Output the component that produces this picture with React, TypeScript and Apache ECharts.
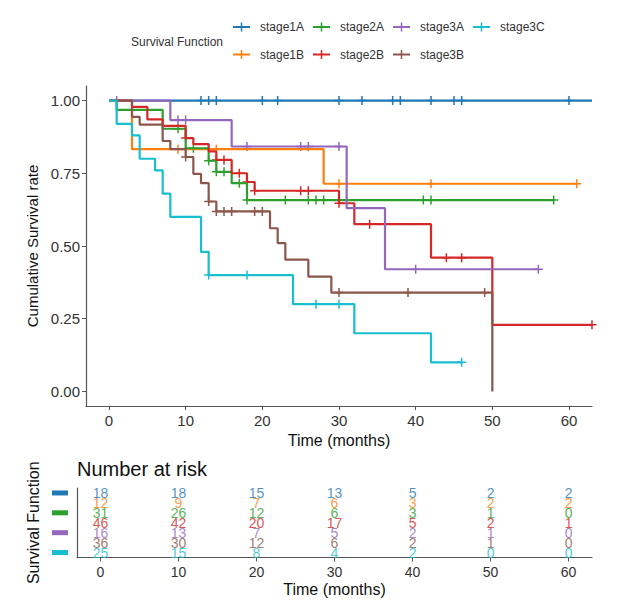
import React, { useEffect, useRef } from "react";
import * as echarts from "echarts";

// ---------- data ----------
const STAGES = ["stage1A", "stage1B", "stage2A", "stage2B", "stage3A", "stage3B", "stage3C"];
const COLORS = ["#1F77B4", "#FF7F0E", "#2CA02C", "#D62728", "#9467BD", "#8C564B", "#17BECF"];

// Kaplan-Meier step points [time, survival]
const stage1A_steps = [[0, 1], [63, 1]];
const stage1B_steps = [[0, 1], [3, 0.833], [28, 0.714], [61, 0.714]];
const stage2A_steps = [[0, 1], [1, 0.968], [7, 0.903], [10, 0.836], [13, 0.793], [14, 0.755], [16, 0.716], [18, 0.658], [58, 0.658]];
const stage2B_steps = [[0, 1], [3, 0.978], [5, 0.935], [7, 0.913], [10, 0.871], [11, 0.85], [13, 0.825], [14, 0.796], [16, 0.75], [18, 0.72], [19, 0.69], [30, 0.647], [32, 0.575], [42, 0.46], [50, 0.229], [63, 0.229]];
const stage3A_steps = [[0, 1], [8, 0.933], [16, 0.842], [31, 0.63], [36, 0.42], [56, 0.42]];
const stage3B_steps = [[0, 1], [3, 0.944], [4, 0.917], [7, 0.861], [8, 0.833], [10, 0.806], [11, 0.748], [12, 0.716], [13, 0.653], [14, 0.619], [21, 0.561], [22, 0.51], [23, 0.453], [26, 0.395], [29, 0.34], [50, 0]];
const stage3C_steps = [[0, 1], [1, 0.92], [3, 0.88], [4, 0.8], [6, 0.76], [7, 0.68], [8, 0.6], [12, 0.48], [13, 0.4], [24, 0.3], [32, 0.2], [42, 0.1], [46, 0.1]];

// censor marks [time, survival]
const stage1A_censor = [[12, 1], [13, 1], [14, 1], [20, 1], [22, 1], [30, 1], [33, 1], [37, 1], [38, 1], [42, 1], [45, 1], [46, 1], [60, 1]];
const stage1B_censor = [[9, 0.833], [10, 0.833], [14, 0.833], [30, 0.714], [42, 0.714], [61, 0.714]];
const stage2A_censor = [[9, 0.903], [11, 0.836], [13, 0.793], [14, 0.755], [15, 0.755], [17, 0.716], [18, 0.658], [23, 0.658], [26, 0.658], [27, 0.658], [28, 0.658], [41, 0.658], [42, 0.658], [58, 0.658]];
const stage2B_censor = [[10, 0.871], [14, 0.796], [15, 0.796], [17, 0.75], [18, 0.72], [19, 0.69], [25, 0.69], [26, 0.69], [30, 0.647], [34, 0.575], [36, 0.575], [44, 0.46], [46, 0.46], [63, 0.229]];
const stage3A_censor = [[1, 1], [9, 0.933], [10, 0.933], [18, 0.842], [25, 0.842], [26, 0.842], [30, 0.842], [40, 0.42], [56, 0.42]];
const stage3B_censor = [[10, 0.806], [13, 0.653], [14, 0.619], [15, 0.619], [16, 0.619], [19, 0.619], [20, 0.619], [30, 0.34], [39, 0.34], [49, 0.34]];
const stage3C_censor = [[13, 0.4], [18, 0.4], [27, 0.3], [30, 0.3], [46, 0.1]];

// number at risk
const RISK_TIMES = [0, 10, 20, 30, 40, 50, 60];
const stage1A_risk = [18, 18, 15, 13, 5, 2, 2];
const stage1B_risk = [12, 9, 7, 6, 3, 2, 2];
const stage2A_risk = [31, 26, 12, 6, 3, 1, 0];
const stage2B_risk = [46, 42, 20, 17, 5, 2, 1];
const stage3A_risk = [16, 13, 7, 5, 2, 1, 0];
const stage3B_risk = [36, 30, 12, 6, 2, 1, 0];
const stage3C_risk = [25, 15, 8, 4, 2, 0, 0];

const X_TICKS = [0, 10, 20, 30, 40, 50, 60];
const Y_TICKS = [0, 0.25, 0.5, 0.75, 1];

const STEPS = [stage1A_steps, stage1B_steps, stage2A_steps, stage2B_steps, stage3A_steps, stage3B_steps, stage3C_steps];
const CENSORS = [stage1A_censor, stage1B_censor, stage2A_censor, stage2B_censor, stage3A_censor, stage3B_censor, stage3C_censor];
const RISKS = [stage1A_risk, stage1B_risk, stage2A_risk, stage2B_risk, stage3A_risk, stage3B_risk, stage3C_risk];

const FONT = '"Liberation Sans", Arial, Helvetica, sans-serif';
const PLUS = "path://M0,3.75h9v1.5h-9z M3.75,0h1.5v9h-1.5z";
const AXIS_COLOR = "#555";
const TEXT_COLOR = "#333";

function buildOption() {
  const series: any[] = [];
  STAGES.forEach((name, i) => {
    series.push({
      type: "line",
      name,
      xAxisIndex: 0,
      yAxisIndex: 0,
      step: "end",
      symbol: "none",
      data: STEPS[i],
      lineStyle: { color: COLORS[i], width: 2.2 },
      itemStyle: { color: COLORS[i] },
    });
    series.push({
      type: "scatter",
      name: name + " censor",
      xAxisIndex: 0,
      yAxisIndex: 0,
      symbol: PLUS,
      symbolSize: 9,
      data: CENSORS[i],
      itemStyle: { color: COLORS[i], opacity: 1 },
    });
  });
  STAGES.forEach((name, i) => {
    series.push({
      type: "scatter",
      name: name + " risk",
      xAxisIndex: 1,
      yAxisIndex: 1,
      symbolSize: 1,
      itemStyle: { color: "transparent" },
      data: RISK_TIMES.map((t, j) => [t, name, RISKS[i][j]]),
      label: {
        show: true,
        position: "inside",
        formatter: (p: any) => String(p.value[2]),
        color: COLORS[i],
        fontSize: 14,
        fontFamily: FONT,
      },
    });
  });

  const rich: any = {};
  STAGES.forEach((_, i) => {
    rich["b" + i] = { width: 16, height: 5, backgroundColor: COLORS[i] };
  });

  const graphic: any[] = [
    {
      type: "text",
      x: 131,
      y: 42,
      style: { text: "Survival Function", font: `12px ${FONT}`, fill: TEXT_COLOR, verticalAlign: "middle", align: "left" },
    },
  ];
  // legend: two rows, filled column by column
  STAGES.forEach((name, i) => {
    const col = Math.floor(i / 2);
    const row = i % 2;
    const x0 = 233 + col * 80;
    const y0 = row === 0 ? 27 : 54.5;
    graphic.push({ type: "line", shape: { x1: x0, y1: y0, x2: x0 + 17, y2: y0 }, style: { stroke: COLORS[i], lineWidth: 2 } });
    graphic.push({ type: "line", shape: { x1: x0 + 8.5, y1: y0 - 4.5, x2: x0 + 8.5, y2: y0 + 4.5 }, style: { stroke: COLORS[i], lineWidth: 1.5 } });
    graphic.push({
      type: "text",
      x: x0 + 27,
      y: y0,
      style: { text: name, font: `12px ${FONT}`, fill: TEXT_COLOR, verticalAlign: "middle", align: "left" },
    });
  });

  const axisCommon = {
    axisLine: { show: true, onZero: false, lineStyle: { color: AXIS_COLOR, width: 1.2 } },
    splitLine: { show: false },
  };

  return {
    animation: false,
    backgroundColor: "#fff",
    textStyle: { fontFamily: FONT },
    title: {
      text: "Number at risk",
      left: 77,
      top: 459,
      padding: 0,
      textStyle: { fontSize: 20, fontWeight: "normal", color: "#111", fontFamily: FONT },
    },
    grid: [
      { left: 86, top: 86, width: 506, height: 320 },
      { left: 77, top: 488, width: 515, height: 69.5 },
    ],
    xAxis: [
      {
        gridIndex: 0,
        type: "value",
        min: -3,
        max: 63,
        ...axisCommon,
        axisTick: { show: true, length: 4, customValues: X_TICKS, lineStyle: { color: AXIS_COLOR } },
        axisLabel: { customValues: X_TICKS, fontSize: 15, color: TEXT_COLOR, margin: 7, fontFamily: FONT },
        name: "Time (months)",
        nameLocation: "middle",
        nameGap: 24,
        nameTextStyle: { fontSize: 16, color: "#111", fontFamily: FONT },
      },
      {
        gridIndex: 1,
        type: "value",
        min: -3,
        max: 63,
        ...axisCommon,
        axisTick: { show: true, length: 4, customValues: X_TICKS, lineStyle: { color: AXIS_COLOR } },
        axisLabel: { customValues: X_TICKS, fontSize: 14, color: TEXT_COLOR, margin: 7, fontFamily: FONT },
        name: "Time (months)",
        nameLocation: "middle",
        nameGap: 24,
        nameTextStyle: { fontSize: 16, color: "#111", fontFamily: FONT },
      },
    ],
    yAxis: [
      {
        gridIndex: 0,
        type: "value",
        min: -0.05,
        max: 1.05,
        ...axisCommon,
        axisTick: { show: true, length: 4, customValues: Y_TICKS, lineStyle: { color: AXIS_COLOR } },
        axisLabel: {
          customValues: Y_TICKS,
          fontSize: 15,
          color: TEXT_COLOR,
          margin: 6,
          fontFamily: FONT,
          formatter: (v: number) => v.toFixed(2),
        },
        name: "Cumulative Survival rate",
        nameLocation: "middle",
        nameRotate: 90,
        nameGap: 42,
        nameTextStyle: { fontSize: 15, color: "#111", fontFamily: FONT },
      },
      {
        gridIndex: 1,
        type: "category",
        data: STAGES,
        inverse: true,
        ...axisCommon,
        axisTick: { show: false },
        axisLabel: {
          margin: 9,
          formatter: (_v: string, idx: number) => `{b${idx}|}`,
          rich,
        },
        name: "Survival Function",
        nameLocation: "middle",
        nameRotate: 90,
        nameGap: 32,
        nameTextStyle: { fontSize: 16, color: "#111", fontFamily: FONT },
      },
    ],
    graphic,
    series,
  };
}

export default function App() {
  const ref = useRef<HTMLDivElement>(null);
  useEffect(() => {
    if (!ref.current) return;
    const chart = echarts.init(ref.current, undefined, { renderer: "svg" });
    chart.setOption(buildOption() as any);
    return () => chart.dispose();
  }, []);
  return (
    <div
      ref={ref}
      style={{ position: "fixed", left: 0, top: 0, width: 638, height: 604, background: "#fff" }}
    />
  );
}
